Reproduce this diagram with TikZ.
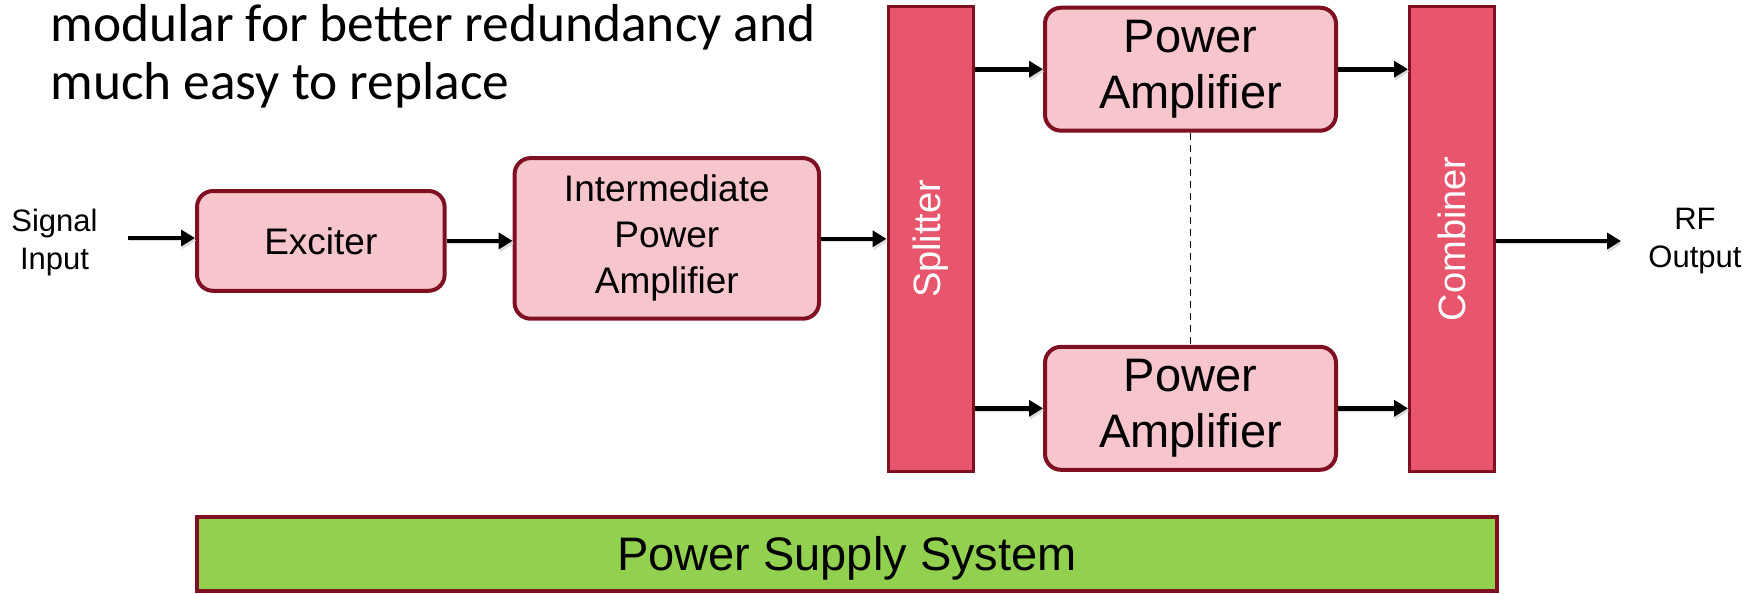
\documentclass[tikz,border=0pt]{standalone}
\usepackage{fontspec}
\setmainfont{Liberation Sans}
\newfontfamily\titlefont{Carlito}
\usetikzlibrary{arrows.meta}

\definecolor{boxfill}{HTML}{F7C5CC}
\definecolor{boxline}{HTML}{7E1022}
\definecolor{barfill}{HTML}{E8566E}
\definecolor{psfill}{HTML}{92D050}

\tikzset{
  block/.style={draw=boxline, line width=2pt, fill=boxfill, rounded corners=8pt,
    inner sep=0pt, align=center, font=\fontsize{18.5}{23}\selectfont},
  pablock/.style={block, minimum width=145.5pt, minimum height=61.5pt,
    font=\fontsize{23.5}{28}\selectfont},
  bar/.style={draw=boxline, line width=1.5pt, fill=barfill, inner sep=0pt,
    minimum width=42.5pt, minimum height=232.7pt},
  bartext/.style={text=white, rotate=90, font=\fontsize{19}{23}\selectfont},
  label/.style={align=center, inner sep=0pt, font=\fontsize{15.5}{19}\selectfont},
  titleline/.style={anchor=base west, inner sep=0pt,
    font=\titlefont\fontsize{26.7}{30}\selectfont},
  flow/.style={line width=2.3pt, -{Triangle[length=7pt,width=8pt]},
    preaction={draw=black!14, transform canvas={shift={(0.6pt,-1.3pt)}}}},
}

\begin{document}
\begin{tikzpicture}[x=0.5pt,y=-0.5pt]
  \useasboundingbox (0,0) rectangle (1762,594);

  % heading
  \node[titleline] (title1) at (50,41.7) {modular for better redundancy and};
  \node[titleline] (title2) at (50,99) {much easy to replace};

  % signal chain
  \node[label] (sigin) at (54.5,242) {Signal\\Input};
  \coordinate (inpt) at (128,238);
  \node[block, minimum width=123.8pt, minimum height=49.9pt,
        text height=13.3pt, text depth=0pt] (exc) at (320.8,240.9) {Exciter};
  \node[block, minimum width=152.2pt, minimum height=80.3pt] (ipa) at (666.8,238.4)
    {Intermediate\\Power\\Amplifier};

  \node[bar] (spl) at (930.5,238.8) {};
  \node[bartext] at (spl.center) {Splitter};

  \node[pablock] (pa1) at (1190.5,69.2) {Power\\Amplifier};
  \node[pablock] (pa2) at (1190.5,408.3) {Power\\Amplifier};

  \node[bar] (comb) at (1452,238.8) {};
  \node[bartext] at (comb.center) {Combiner};

  \coordinate (outpt) at (1621,241);
  \node[label] (rfout) at (1695,241) {RF\\Output};

  % power supply
  \node[draw=boxline, line width=2pt, fill=psfill, inner sep=0pt,
        minimum width=650pt, minimum height=37pt,
        text height=16.9pt, text depth=0pt,
        font=\fontsize{23.5}{28}\selectfont] (psu) at (847,554)
    {Power Supply System};

  % connectors
  \draw[flow] (inpt) -- (exc.west |- inpt);
  \draw[flow] (exc.east) -- (ipa.west |- exc.east);
  \draw[flow] (ipa.east |- spl.west) -- (spl.west);
  \draw[flow] (spl.east |- pa1.west) -- (pa1.west);
  \draw[flow] (spl.east |- pa2.west) -- (pa2.west);
  \draw[flow] (pa1.east) -- (comb.west |- pa1.east);
  \draw[flow] (pa2.east) -- (comb.west |- pa2.east);
  \draw[flow] (comb.east |- outpt) -- (outpt);
  \draw[line width=0.7pt, dash pattern=on 3.5pt off 2.5pt] (pa1.south) -- (pa2.north);
\end{tikzpicture}
\end{document}
